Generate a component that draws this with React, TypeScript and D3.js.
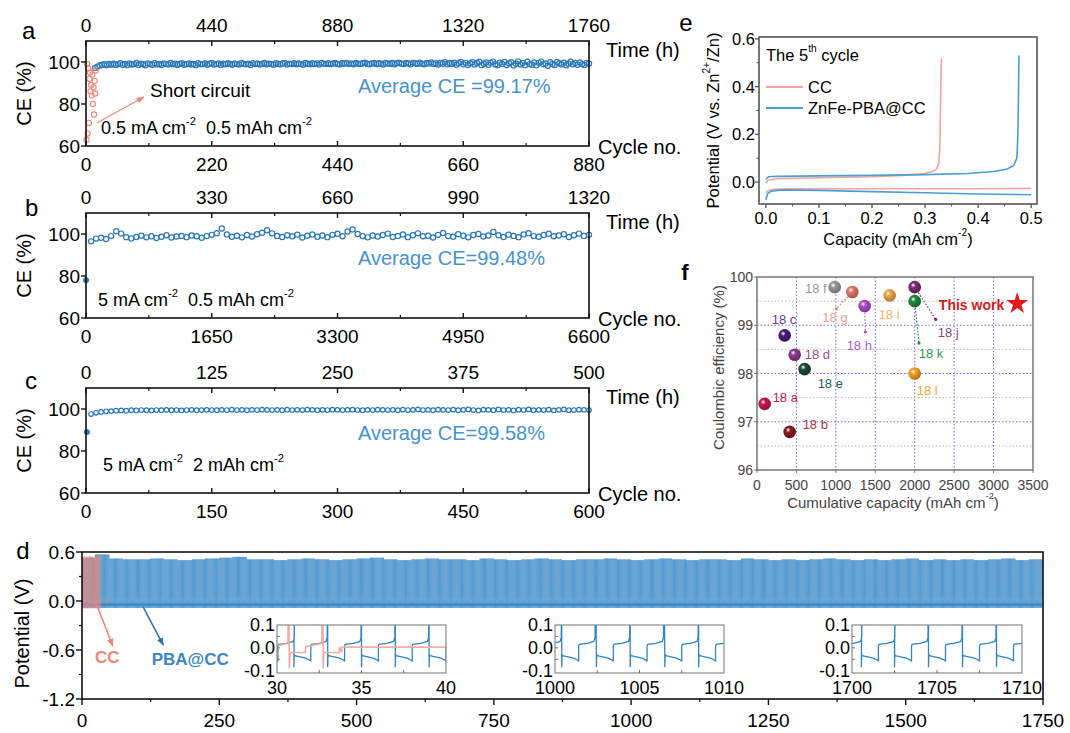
import React from "react";
import * as d3 from "d3";

const FONT = "'Liberation Sans', Arial, Helvetica, sans-serif";
const BLUE = "#2a78b9";
const LBLUE = "#4593d0";
const RED = "#f0857a";
const PINK = "#f4a4a0";

// ---------- panels a-c : coulombic efficiency ----------
const aCycleTicks = [0, 220, 440, 660, 880];
const aTimeTicks = [0, 440, 880, 1320, 1760];
const aCCcycles = [1, 2, 3, 4, 5, 6, 7, 8, 9, 10, 11, 12, 13, 14, 15, 16, 17];
const aCCce = [63, 99, 66, 97, 71, 92, 95, 86, 89, 84, 94, 80, 88, 75, 91, 85, 96];
// PBA@CC, every 4 cycles from cycle 16
const aPBA = [97.2, 97.8, 98.3, 98.6, 98.9, 98.5, 99.1, 98.7, 99.2, 98.6, 99.0, 99.4, 98.7, 99.1, 98.5, 99.3, 98.8, 99.0, 99.5, 98.6,
  99.2, 98.9, 98.4, 99.3, 99.0, 98.7, 99.4, 98.8, 99.1, 98.6, 99.3, 99.0, 98.8, 99.5, 98.9, 99.2, 98.6, 99.1, 99.4, 98.7,
  99.0, 99.3, 98.8, 99.1, 98.5, 99.4, 99.0, 98.9, 99.3, 98.7, 99.2, 99.5, 98.8, 99.0, 99.3, 98.6, 99.2, 98.9, 99.4, 99.1,
  98.7, 99.3, 99.0, 98.8, 99.5, 99.1, 98.9, 99.2, 98.6, 99.4, 99.0, 99.3, 98.8, 99.1, 99.5, 98.9, 99.2, 99.0, 98.7, 99.4,
  99.1, 98.9, 99.3, 99.6, 98.8, 99.2, 99.0, 99.4, 98.9, 99.3, 99.1, 98.7, 99.5, 99.2, 98.9, 99.4, 99.0, 99.3, 98.8, 99.6,
  99.2, 99.0, 99.4, 98.9, 99.3, 99.5, 99.1, 98.8, 99.4, 99.2, 99.6, 99.0, 99.3, 98.9, 99.5, 99.2, 99.0, 99.4, 99.7, 99.1,
  98.9, 99.3, 99.5, 99.0, 99.4, 99.2, 98.8, 99.6, 99.3, 99.1, 99.5, 98.9, 99.4, 99.7, 99.2, 99.0, 99.5, 99.3, 98.9, 99.6,
  99.4, 99.1, 99.7, 99.2, 98.9, 99.5, 99.3, 99.8, 99.0, 99.4, 98.8, 99.6, 99.2, 99.9, 98.9, 99.5, 99.1, 99.7, 98.7, 99.4,
  100.0, 98.9, 99.6, 98.6, 99.3, 99.9, 98.8, 99.5, 100.1, 98.5, 99.2, 99.8, 98.7, 99.6, 100.2, 98.9, 98.4, 99.7, 99.1, 100.0,
  98.6, 99.4, 99.9, 98.3, 99.2, 100.3, 98.8, 99.5, 98.5, 100.1, 99.0, 98.7, 99.8, 98.4, 99.6, 100.2, 98.9, 99.3, 98.2, 99.9,
  99.1, 98.6, 100.0, 99.4, 98.8, 99.7, 98.5, 99.2, 100.1, 98.9, 99.5, 98.7, 99.8, 99.0, 98.6, 99.6, 99.3];

const bCycleTicks = [0, 1650, 3300, 4950, 6600];
const bTimeTicks = [0, 330, 660, 990, 1320];
const bFirst = 78;
// every 66 cycles
const bPBA = [96.5, 97.8, 98.2, 97.6, 99.0, 101.3, 100.2, 98.5, 97.9, 98.6, 99.2, 98.4, 98.9, 98.1, 98.7, 99.4, 98.3, 98.8, 99.1, 98.5,
  99.3, 98.9, 98.2, 99.0, 99.6, 100.4, 102.6, 99.8, 98.7, 99.2, 98.4, 99.5, 98.8, 99.9, 100.6, 101.8, 100.3, 99.1, 98.6, 99.4,
  98.9, 99.7, 98.3, 99.2, 99.8, 98.7, 99.3, 98.5, 99.6, 100.1, 98.9, 101.2, 102.2, 100.0, 99.0, 98.4, 99.3, 98.8, 99.5, 100.2,
  98.6, 99.1, 99.8, 98.5, 99.4, 100.3, 98.9, 99.2, 98.3, 99.6, 100.5, 99.0, 98.7, 99.9, 99.2, 98.4, 99.5, 100.0, 98.8, 99.3,
  101.0, 99.4, 98.6, 99.7, 99.1, 98.5, 99.8, 100.4, 99.0, 98.7, 99.5, 100.1, 98.9, 99.3, 99.9, 98.6, 99.4, 100.2, 99.1, 99.6];

const cCycleTicks = [0, 150, 300, 450, 600];
const cTimeTicks = [0, 125, 250, 375, 500];
const cFirst = 89;
// every 6 cycles
const cPBA = [97.6, 98.2, 98.6, 98.9, 99.0, 99.2, 99.3, 99.2, 99.4, 99.3, 99.5, 99.4, 99.3, 99.5, 99.4, 99.6, 99.4, 99.5, 99.3, 99.5,
  99.6, 99.4, 99.5, 99.6, 99.5, 99.4, 99.6, 99.5, 99.7, 99.5, 99.6, 99.4, 99.6, 99.5, 99.7, 99.6, 99.5, 99.6, 99.4, 99.7,
  99.5, 99.6, 99.5, 99.7, 99.6, 99.4, 99.6, 99.5, 99.7, 99.6, 99.5, 99.6, 99.7, 99.5, 99.4, 99.6, 99.5, 99.7, 99.6, 99.5,
  99.6, 99.4, 99.7, 99.5, 99.6, 99.8, 99.5, 99.6, 99.4, 99.7, 99.6, 99.5, 99.7, 99.4, 99.6, 99.8, 99.5, 99.3, 99.7, 99.6,
  99.4, 99.8, 99.5, 99.6, 99.3, 99.7, 99.5, 99.8, 99.4, 99.6, 99.5, 99.7, 99.3, 99.6, 99.8, 99.4, 99.5, 99.7, 99.6, 99.5];

const ceTicks = [60, 80, 100];

// ---------- panel d : voltage profile ----------
const dTimeTicks = [0, 250, 500, 750, 1000, 1250, 1500, 1750];
const dVTicks = [0.6, 0.0, -0.6, -1.2];
// peak stripping voltage read for each 25 h block
const dBluePeaks = [0.53, 0.57, 0.52, 0.51, 0.51, 0.52, 0.51, 0.50, 0.51, 0.52, 0.53, 0.54, 0.51, 0.51, 0.50, 0.51, 0.52, 0.51, 0.50, 0.51,
  0.52, 0.53, 0.51, 0.50, 0.51, 0.52, 0.51, 0.51, 0.50, 0.52, 0.51, 0.50, 0.51, 0.52, 0.51, 0.50, 0.51, 0.51, 0.52, 0.51,
  0.50, 0.51, 0.52, 0.51, 0.50, 0.51, 0.51, 0.50, 0.52, 0.51, 0.50, 0.51, 0.50, 0.51, 0.52, 0.51, 0.50, 0.51, 0.50, 0.51,
  0.52, 0.50, 0.51, 0.50, 0.51, 0.50, 0.51, 0.52, 0.50, 0.51];
// one plating/stripping cycle of ZnFe-PBA@CC (hours from plating start, V)
const cycT = [0, 0.02, 0.06, 0.3, 0.7, 0.97, 1.0, 1.0, 1.03, 1.5, 1.9, 1.97];
const cycV = [-0.085, -0.03, -0.034, -0.038, -0.045, -0.055, -0.06, 0.008, 0.015, 0.02, 0.028, 0.045];
const ccSpikes = [0.7, 2.7, 4.7, 6.7, 8.7, 10.7, 12.7, 14.7, 16.7, 18.7, 20.7, 22.7, 24.7, 26.7, 28.7, 30.7, 32.7];
const ccPeaks = [0.55, 0.54, 0.55, 0.53, 0.55, 0.54, 0.55, 0.55, 0.54, 0.55, 0.53, 0.55, 0.54, 0.55, 0.55, 0.54, 0.55];
const ccShortStart = 33.85;
const ccEnd = 55;
const inset1Spikes = [29.05, 31.05, 33.0, 35.0, 37.0, 39.0, 41.0];
const inset2Spikes = [998.4, 1000.4, 1002.4, 1004.45, 1006.45, 1008.5, 1010.5];
const inset3Spikes = [1698.6, 1700.6, 1702.55, 1704.5, 1706.5, 1708.5, 1710.5];

// ---------- panel e : 5th cycle ----------
const eCCchgCap = [0, 0.004, 0.02, 0.1, 0.2, 0.26, 0.3, 0.315, 0.322, 0.326, 0.328, 0.329, 0.33, 0.331];
const eCCchgV = [-0.004, 0.008, 0.014, 0.018, 0.022, 0.028, 0.036, 0.045, 0.055, 0.08, 0.15, 0.3, 0.45, 0.52];
const eCCdisCap = [0, 0.005, 0.015, 0.05, 0.2, 0.35, 0.5];
const eCCdisV = [-0.045, -0.035, -0.03, -0.028, -0.028, -0.028, -0.027];
const ePBAchgCap = [0, 0.005, 0.02, 0.1, 0.2, 0.3, 0.38, 0.43, 0.455, 0.467, 0.473, 0.475, 0.476, 0.477];
const ePBAchgV = [0.012, 0.022, 0.024, 0.026, 0.028, 0.031, 0.036, 0.044, 0.055, 0.07, 0.1, 0.2, 0.35, 0.53];
const ePBAdisCap = [0, 0.003, 0.01, 0.03, 0.1, 0.2, 0.3, 0.4, 0.5];
const ePBAdisV = [-0.075, -0.05, -0.038, -0.033, -0.035, -0.04, -0.045, -0.05, -0.053];

// ---------- panel f : comparison ----------
const fNames = ["18 a", "18 b", "18 c", "18 d", "18 e", "18 f", "18 g", "18 h", "18 i", "18 j", "18 k", "18 l"];
const fCap = [97, 414, 351, 478, 604, 985, 1209, 1365, 1682, 2000, 2000, 2000];
const fCE = [97.37, 96.79, 98.79, 98.39, 98.09, 99.79, 99.69, 99.4, 99.62, 99.79, 99.5, 98.0];
const fBall = ["#c8174e", "#8b1c22", "#4a1a7a", "#8c3a8c", "#1c4a3c", "#9a9a9a", "#e07868", "#b04ad0", "#f5a54a", "#7a2a78", "#1e8a3c", "#f7a125"];
const fText = ["#c8174e", "#a83838", "#6a3a9a", "#9a4a9a", "#2a5a5a", "#999999", "#f0a090", "#b060d0", "#f5b070", "#7a4a8a", "#2a9a5a", "#f5a030"];
const thisWork = { cap: 3300, ce: 99.45 };
// dotted leaders: [index, cap, ce]
const fLeaders: [number, number, number][] = [[6, 1006, 99.34], [7, 1374, 98.86], [9, 2266, 99.12], [10, 2054, 98.63]];
// label layout (px offsets from ball centre, anchor)
const fLabelLayout: [number, number, string][] = [[8, -6, "start"], [13, -7, "start"], [-13, -16, "start"], [10, 0, "start"],
  [13, 14, "start"], [-8, 1, "end"], [-30, 26, "start"], [-18, 40, "start"], [-11, 19, "start"], [23, 45, "start"],
  [4, 52, "start"], [2, 17, "start"]];

function supText(parts: [string, string][], fs: number) {
  const out: any[] = [];
  let up = false;
  parts.forEach(([a, s], i) => {
    out.push(<tspan key={"a" + i} dy={up ? fs * 0.4 : 0}>{a}</tspan>);
    up = false;
    if (s) {
      out.push(<tspan key={"s" + i} dy={-fs * 0.4} fontSize={fs * 0.62}>{s}</tspan>);
      up = true;
    }
  });
  return out;
}

function CEPanel(p: any) {
  const L = 86, R = 589, top = p.top, B = top + 105;
  const x = d3.scaleLinear().domain([0, p.cycMax]).range([L, R]);
  const xt = d3.scaleLinear().domain([0, p.timeMax]).range([L, R]);
  const y = d3.scaleLinear().domain([60, 110]).range([B, top]);
  const mid = (t: number[]) => t.slice(1).map((v, i) => (v + t[i]) / 2);
  const fs = 19;
  return (
    <g fontFamily={FONT}>
      {p.values.map((v: number, i: number) => (
        <circle key={i} cx={x(p.start + i * p.step)} cy={y(v)} r={p.r} fill="none" stroke={BLUE} strokeWidth={1.2} />
      ))}
      {p.first !== undefined && <circle cx={x(1)} cy={y(p.first)} r={2.6} fill={BLUE} stroke={BLUE} />}
      {p.ccCycles && p.ccCycles.map((c: number, i: number) => (
        <circle key={"r" + i} cx={x(c)} cy={y(p.ccValues[i])} r={2.6} fill="none" stroke={RED} strokeWidth={1.1} />
      ))}
      <rect x={L} y={top} width={R - L} height={B - top} fill="none" stroke="#111" strokeWidth={1.6} />
      {p.cycTicks.map((t: number) => (
        <g key={"b" + t}>
          <line x1={x(t)} x2={x(t)} y1={B} y2={B - 5} stroke="#111" strokeWidth={1.4} />
          <text x={x(t)} y={B + 18} fontSize={fs} textAnchor="middle" dominantBaseline="central">{t}</text>
        </g>
      ))}
      {mid(p.cycTicks).map((t: number) => <line key={"bm" + t} x1={x(t)} x2={x(t)} y1={B} y2={B - 3} stroke="#111" strokeWidth={1.2} />)}
      {p.timeTicks.map((t: number) => (
        <g key={"t" + t}>
          <line x1={xt(t)} x2={xt(t)} y1={top} y2={top + 5} stroke="#111" strokeWidth={1.4} />
          <text x={xt(t)} y={top - 16} fontSize={fs} textAnchor="middle" dominantBaseline="central">{t}</text>
        </g>
      ))}
      {mid(p.timeTicks).map((t: number) => <line key={"tm" + t} x1={xt(t)} x2={xt(t)} y1={top} y2={top + 3} stroke="#111" strokeWidth={1.2} />)}
      {ceTicks.map((t) => (
        <g key={"y" + t}>
          <line x1={L} x2={L - 5} y1={y(t)} y2={y(t)} stroke="#111" strokeWidth={1.4} />
          <text x={L - 6} y={y(t)} fontSize={fs} textAnchor="end" dominantBaseline="central">{t}</text>
        </g>
      ))}
      <text transform={`translate(24,${(top + B) / 2}) rotate(-90)`} fontSize={20} textAnchor="middle" dominantBaseline="central">CE (%)</text>
      <text x={606} y={top + 9} fontSize={20} dominantBaseline="central">Time (h)</text>
      <text x={598} y={B + 1} fontSize={20} dominantBaseline="central">Cycle no.</text>
      <text x={p.letterX} y={p.letterY} fontSize={24} dominantBaseline="central">{p.letter}</text>
      <text x={358} y={top + 45} fontSize={20} fill={LBLUE} dominantBaseline="central">{p.avg}</text>
      <text x={p.noteX} y={p.noteY} fontSize={18} style={{ whiteSpace: "pre" }} dominantBaseline="central">{supText(p.note, 18)}</text>
      {p.arrow && (
        <>
          <line x1={x(p.arrow[0])} y1={y(p.arrow[1])} x2={x(p.arrow[2])} y2={y(p.arrow[3])} stroke={RED} strokeWidth={1.1} markerEnd="url(#arrRed)" />
          <text x={150} y={top + 49} fontSize={19} dominantBaseline="central">Short circuit</text>
        </>
      )}
    </g>
  );
}

function cycleProfile(spikes: number[], peakOf: (s: number) => number) {
  const pts: [number, number][] = [];
  spikes.forEach((s) => {
    const t0 = s - 2;
    cycT.forEach((dt, j) => pts.push([t0 + dt, cycV[j]]));
    pts.push([s, peakOf(s)]);
  });
  return pts;
}

function ccProfile(end: number) {
  const pts: [number, number][] = [[0, 0.01]];
  ccSpikes.forEach((s, i) => {
    pts.push([s - 0.05, 0.02]);
    pts.push([s, ccPeaks[i]]);
    pts.push([s + 0.03, -0.09]);
    pts.push([s + 0.08, -0.02]);
    pts.push([s + 0.98, -0.02]);
    pts.push([s + 1.0, 0.005]);
  });
  pts.push([ccShortStart - 0.02, -0.02]);
  pts.push([ccShortStart, 0.003]);
  pts.push([end, 0.003]);
  return pts;
}

function Inset({ L, R, d0, d1, spikes, withCC, id }: any) {
  const T = 625, B = 673;
  const x = d3.scaleLinear().domain([d0, d1]).range([L, R]);
  const y = d3.scaleLinear().domain([-0.11, 0.1]).range([B, T]);
  const line = d3.line<[number, number]>().x((d) => x(d[0])).y((d) => y(d[1]));
  const blue = cycleProfile(spikes, () => 0.5);
  const cc = withCC ? ccProfile(d1).filter((d) => d[0] >= d0 - 3) : null;
  const xt = [d0, d0 + 5, d1];
  return (
    <g fontFamily={FONT}>
      <clipPath id={id}><rect x={L} y={T} width={R - L} height={B - T} /></clipPath>
      <rect x={L} y={T} width={R - L} height={B - T} fill="#fff" />
      <g clipPath={`url(#${id})`}>
        <path d={line(blue) || ""} fill="none" stroke="#2f86c6" strokeWidth={1.3} />
        {cc && <path d={line(cc) || ""} fill="none" stroke={PINK} strokeWidth={1.6} strokeOpacity={0.9} />}
      </g>
      <rect x={L} y={T} width={R - L} height={B - T} fill="none" stroke="#8a8a8a" strokeWidth={1.2} />
      {[d0 + 2.5, d0 + 5, d0 + 7.5].map((t) => <line key={t} x1={x(t)} x2={x(t)} y1={B} y2={B - 3} stroke="#777" />)}
      {[-0.05, 0, 0.05].map((t) => <line key={t} x1={L} x2={L + 3} y1={y(t)} y2={y(t)} stroke="#777" />)}
      {xt.map((t) => <text key={t} x={x(t)} y={B + 15} fontSize={18} textAnchor="middle" dominantBaseline="central">{t}</text>)}
      {[0.1, 0, -0.1].map((t) => (
        <text key={t} x={L - 2} y={y(t)} fontSize={18} textAnchor="end" dominantBaseline="central">{t.toFixed(1)}</text>
      ))}
    </g>
  );
}

function PanelD() {
  const L = 82, R = 1043, T = 552, B = 699;
  const x = d3.scaleLinear().domain([0, 1750]).range([L, R]);
  const y = d3.scaleLinear().domain([-1.2, 0.6]).range([B, T]);
  const line = d3.line<[number, number]>().x((d) => x(d[0])).y((d) => y(d[1]));
  const spikes = d3.range(1, 1750, 2);
  const blue = cycleProfile(spikes, (s) => dBluePeaks[Math.min(dBluePeaks.length - 1, Math.floor(s / 25))]);
  const cc = ccProfile(ccEnd);
  return (
    <g fontFamily={FONT}>
      <clipPath id="clipD"><rect x={L} y={T} width={R - L} height={B - T} /></clipPath>
      <g clipPath="url(#clipD)">
        <path d={line(blue) || ""} fill="none" stroke="#2f83c6" strokeWidth={0.7} strokeOpacity={0.85} />
        <path d={line(cc) || ""} fill="none" stroke={RED} strokeWidth={0.6} strokeOpacity={0.8} />
      </g>
      <rect x={L} y={T} width={R - L} height={B - T} fill="none" stroke="#111" strokeWidth={1.6} />
      {dTimeTicks.map((t) => (
        <g key={t}>
          <line x1={x(t)} x2={x(t)} y1={B} y2={B + 6} stroke="#111" strokeWidth={1.4} />
          <text x={x(t)} y={B + 21} fontSize={19} textAnchor="middle" dominantBaseline="central">{t}</text>
        </g>
      ))}
      {dTimeTicks.slice(1).map((t) => <line key={"m" + t} x1={x(t - 125)} x2={x(t - 125)} y1={B} y2={B + 3} stroke="#111" strokeWidth={1.2} />)}
      {dVTicks.map((t) => (
        <g key={t}>
          <line x1={L} x2={L - 6} y1={y(t)} y2={y(t)} stroke="#111" strokeWidth={1.4} />
          <text x={L - 7} y={y(t)} fontSize={19} textAnchor="end" dominantBaseline="central">{t.toFixed(1)}</text>
        </g>
      ))}
      {[0.3, -0.3, -0.9].map((t) => <line key={t} x1={L} x2={L - 3} y1={y(t)} y2={y(t)} stroke="#111" strokeWidth={1.2} />)}
      <text transform={`translate(22,${(T + B) / 2 + 8}) rotate(-90)`} fontSize={20} textAnchor="middle" dominantBaseline="central">Potential (V)</text>
      <text x={23} y={550} fontSize={24} textAnchor="middle" dominantBaseline="central">d</text>
      <line x1={x(27)} y1={y(-0.05)} x2={x(56)} y2={y(-0.55)} stroke={RED} strokeWidth={1.6} markerEnd="url(#arrRedB)" />
      <text x={x(46)} y={y(-0.69)} fontSize={17} fontWeight="bold" fill={RED} textAnchor="middle" dominantBaseline="central">CC</text>
      <line x1={x(111)} y1={y(-0.07)} x2={x(148)} y2={y(-0.54)} stroke="#2a78b9" strokeWidth={1.6} markerEnd="url(#arrBlue)" />
      <text x={x(197)} y={y(-0.72)} fontSize={17} fontWeight="bold" fill="#3a86c8" textAnchor="middle" dominantBaseline="central">PBA@CC</text>
      <Inset id="in1" L={277} R={446} d0={30} d1={40} spikes={inset1Spikes} withCC />
      <Inset id="in2" L={555} R={724} d0={1000} d1={1010} spikes={inset2Spikes} />
      <Inset id="in3" L={852} R={1022} d0={1700} d1={1710} spikes={inset3Spikes} />
    </g>
  );
}

function PanelE() {
  const L = 759, R = 1037, T = 37, B = 204;
  const x = d3.scaleLinear().domain([-0.013, 0.511]).range([L, R]);
  const y = d3.scaleLinear().domain([-0.092, 0.608]).range([B, T]);
  const mk = (cap: number[], v: number[]) => d3.line<number>().x((d) => x(d)).y((_, i) => y(v[i]))(cap) || "";
  const fs = 16.5;
  return (
    <g fontFamily={FONT}>
      <path d={mk(eCCdisCap, eCCdisV)} fill="none" stroke={PINK} strokeWidth={1.6} />
      <path d={mk(ePBAdisCap, ePBAdisV)} fill="none" stroke="#4a9ed6" strokeWidth={1.6} />
      <path d={mk(eCCchgCap, eCCchgV)} fill="none" stroke={PINK} strokeWidth={1.6} />
      <path d={mk(ePBAchgCap, ePBAchgV)} fill="none" stroke="#4a9ed6" strokeWidth={1.6} />
      <rect x={L} y={T} width={R - L} height={B - T} fill="none" stroke="#555" strokeWidth={1.6} />
      {[0, 0.1, 0.2, 0.3, 0.4, 0.5].map((t) => (
        <g key={t}>
          <line x1={x(t)} x2={x(t)} y1={B} y2={B + 4} stroke="#555" strokeWidth={1.3} />
          <text x={x(t)} y={B + 14} fontSize={fs} textAnchor="middle" dominantBaseline="central">{t.toFixed(1)}</text>
        </g>
      ))}
      {[0.05, 0.15, 0.25, 0.35, 0.45].map((t) => <line key={t} x1={x(t)} x2={x(t)} y1={B} y2={B + 2.5} stroke="#555" />)}
      {[0, 0.2, 0.4, 0.6].map((t) => (
        <g key={t}>
          <line x1={L} x2={L - 4} y1={y(t)} y2={y(t)} stroke="#555" strokeWidth={1.3} />
          <text x={L - 4} y={y(t)} fontSize={fs} textAnchor="end" dominantBaseline="central">{t.toFixed(1)}</text>
        </g>
      ))}
      {[0.1, 0.3, 0.5].map((t) => <line key={t} x1={L} x2={L - 2.5} y1={y(t)} y2={y(t)} stroke="#555" />)}
      <text x={766} y={55} fontSize={fs} dominantBaseline="central" style={{ whiteSpace: "pre" }}>{supText([["The 5", "th"], [" cycle", ""]], fs)}</text>
      <line x1={766} x2={803} y1={87} y2={87} stroke={PINK} strokeWidth={1.8} />
      <text x={808} y={87} fontSize={fs} dominantBaseline="central">CC</text>
      <line x1={766} x2={803} y1={108} y2={108} stroke="#4a9ed6" strokeWidth={1.8} />
      <text x={808} y={108} fontSize={fs} dominantBaseline="central">ZnFe-PBA@CC</text>
      <text transform={`translate(713,${(T + B) / 2 + 0}) rotate(-90)`} fontSize={fs} textAnchor="middle" dominantBaseline="central" style={{ whiteSpace: "pre" }}>
        {supText([["Potential (V vs. Zn", "2+"], ["/Zn)", ""]], fs)}
      </text>
      <text x={(L + R) / 2} y={239} fontSize={fs} textAnchor="middle" dominantBaseline="central" style={{ whiteSpace: "pre" }}>
        {supText([["Capacity (mAh cm", "-2"], [")", ""]], fs)}
      </text>
      <text x={686} y={22} fontSize={24} textAnchor="middle" dominantBaseline="central">e</text>
    </g>
  );
}

function PanelF() {
  const L = 757, R = 1033, T = 277, B = 470;
  const x = d3.scaleLinear().domain([0, 3500]).range([L, R]);
  const y = d3.scaleLinear().domain([96, 100]).range([B, T]);
  const star = d3.symbol(d3.symbolStar, 150)() || "";
  const grey = "#444";
  return (
    <g fontFamily={FONT}>
      <defs>
        {fBall.map((c, i) => (
          <radialGradient key={i} id={"ball" + i} cx="38%" cy="35%" r="65%">
            <stop offset="0%" stopColor={i === 8 ? "#bff" : "#fff"} stopOpacity={0.9} />
            <stop offset="30%" stopColor={c} />
            <stop offset="100%" stopColor={d3.color(c)!.darker(0.9).formatHex()} />
          </radialGradient>
        ))}
      </defs>
      {[96.5, 97.5, 98.5, 99.5].map((t) => <line key={t} x1={L} x2={R} y1={y(t)} y2={y(t)} stroke="#bbb" strokeDasharray="1.5,2" />)}
      {[97, 98, 99].map((t) => <line key={t} x1={L} x2={R} y1={y(t)} y2={y(t)} stroke="#6c6ce0" strokeDasharray="1.5,2" />)}
      {[500, 1000, 1500, 2000, 2500, 3000].map((t) => <line key={t} x1={x(t)} x2={x(t)} y1={T} y2={B} stroke="#6c6ce0" strokeDasharray="1.5,2" />)}
      {fLeaders.map(([i, c, e]) => (
        <g key={i}>
          <line x1={x(fCap[i])} y1={y(fCE[i])} x2={x(c)} y2={y(e)} stroke={fBall[i]} strokeWidth={1.2} strokeDasharray="1.5,1.8" />
          <circle cx={x(c)} cy={y(e)} r={1.6} fill={fBall[i]} />
        </g>
      ))}
      {fCap.map((c, i) => (
        <circle key={i} cx={x(c)} cy={y(fCE[i])} r={6.3} fill={`url(#ball${i})`} />
      ))}
      {fNames.map((n, i) => {
        const [dx, dy, anc] = fLabelLayout[i];
        return (
          <text key={n} x={x(fCap[i]) + dx} y={y(fCE[i]) + dy} fontSize={13} fill={fText[i]} textAnchor={anc} dominantBaseline="central">{n}</text>
        );
      })}
      <path d={star} transform={`translate(${x(thisWork.cap)},${y(thisWork.ce)})`} fill="#e01b1b" />
      <text x={x(thisWork.cap) - 13} y={y(thisWork.ce) + 1} fontSize={14} fontWeight="bold" fill="#d42020" textAnchor="end" dominantBaseline="central">This work</text>
      <rect x={L} y={T} width={R - L} height={B - T} fill="none" stroke="#777" strokeWidth={1.5} />
      {[0, 500, 1000, 1500, 2000, 2500, 3000, 3500].map((t) => (
        <g key={t}>
          <line x1={x(t)} x2={x(t)} y1={B} y2={B + 3} stroke="#777" />
          <text x={x(t)} y={B + 15} fontSize={14} fill={grey} textAnchor="middle" dominantBaseline="central">{t}</text>
        </g>
      ))}
      {[96, 97, 98, 99, 100].map((t) => (
        <g key={t}>
          <line x1={L} x2={L - 3} y1={y(t)} y2={y(t)} stroke="#777" />
          <text x={L - 4} y={y(t)} fontSize={14} fill={grey} textAnchor="end" dominantBaseline="central">{t}</text>
        </g>
      ))}
      <text transform={`translate(718,${(T + B) / 2 - 6}) rotate(-90)`} fontSize={15} fill={grey} textAnchor="middle" dominantBaseline="central">Coulombic efficiency (%)</text>
      <text x={(L + R) / 2 - 2} y={502} fontSize={15} fill={grey} textAnchor="middle" dominantBaseline="central" style={{ whiteSpace: "pre" }}>
        {supText([["Cumulative capacity (mAh cm", "-2"], [")", ""]], 15)}
      </text>
      <text x={685} y={272} fontSize={22} fontWeight="bold" textAnchor="middle" dominantBaseline="central">f</text>
    </g>
  );
}

export default function App() {
  return (
    <svg width={1070} height={733} style={{ position: "absolute", left: 0, top: 0, background: "#fff" }}>
      <defs>
        <marker id="arrRed" viewBox="0 0 10 10" refX="9" refY="5" markerWidth="7" markerHeight="7" orient="auto">
          <path d="M0,1 L10,5 L0,9 z" fill={RED} />
        </marker>
        <marker id="arrRedB" viewBox="0 0 10 10" refX="9" refY="5" markerWidth="5" markerHeight="5" orient="auto">
          <path d="M0,1 L10,5 L0,9 z" fill={RED} />
        </marker>
        <marker id="arrBlue" viewBox="0 0 10 10" refX="9" refY="5" markerWidth="5" markerHeight="5" orient="auto">
          <path d="M0,1 L10,5 L0,9 z" fill="#2a78b9" />
        </marker>
      </defs>
      <CEPanel top={41} letter="a" letterX={22} letterY={30} cycMax={880} cycTicks={aCycleTicks} timeMax={1760} timeTicks={aTimeTicks}
        values={aPBA} start={16} step={4} r={2.6} ccCycles={aCCcycles} ccValues={aCCce} avg="Average CE =99.17%"
        note={[["0.5 mA cm", "-2"], ["  0.5 mAh cm", "-2"]]} noteX={101} noteY={128} arrow={[19, 71, 101, 83.3]} />
      <CEPanel top={213} letter="b" letterX={25} letterY={207} cycMax={6600} cycTicks={bCycleTicks} timeMax={1320} timeTicks={bTimeTicks}
        values={bPBA} start={66} step={66} r={2.6} first={bFirst} avg="Average CE=99.48%"
        note={[["5 mA cm", "-2"], ["  0.5 mAh cm", "-2"]]} noteX={98} noteY={300} />
      <CEPanel top={388} letter="c" letterX={25} letterY={380} cycMax={600} cycTicks={cCycleTicks} timeMax={500} timeTicks={cTimeTicks}
        values={cPBA} start={6} step={6} r={2.3} first={cFirst} avg="Average CE=99.58%"
        note={[["5 mA cm", "-2"], ["  2 mAh cm", "-2"]]} noteX={103} noteY={465} />
      <PanelD />
      <PanelE />
      <PanelF />
    </svg>
  );
}
